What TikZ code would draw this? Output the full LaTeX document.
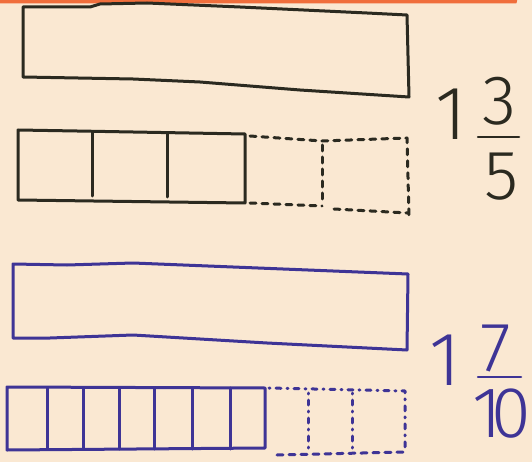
\documentclass[tikz,border=0pt]{standalone}
\usepackage{fontspec}
\newfontfamily\hand{Fira Sans Light}
\definecolor{paper}{RGB}{250,232,210}
\definecolor{strip}{RGB}{240,110,60}
\definecolor{inkk}{RGB}{43,42,32}
\definecolor{inkb}{RGB}{62,52,150}
\begin{document}
\begin{tikzpicture}[x=1pt,y=-1pt,
  pen/.style={line width=3pt,line join=round,line cap=round},
  blk/.style={pen,draw=inkk},
  blu/.style={pen,draw=inkb},
  dsh/.style={dash pattern=on 6pt off 6pt},
  dotty/.style={dash pattern=on 1pt off 6pt on 5pt off 6pt},
  digit/.style={inner sep=0pt,font=\hand\fontsize{70}{70}\selectfont},
  bigdigit/.style={inner sep=0pt,font=\hand\fontsize{76}{76}\selectfont},
  tendigit/.style={inner sep=0pt,font=\hand\fontsize{72}{72}\selectfont}]
\fill[paper] (0,0) rectangle (532,462);
\useasboundingbox (0,0) rectangle (532,462);
\fill[strip] (0,0) -- (517,0) -- (517,1) .. controls (517,3.5) .. (513,3.5) -- (0,3.5) -- cycle;
% black whole
\draw[blk] (23,7) -- (90,7) -- (100,4) -- (147,3) -- (240,7) -- (367,13) -- (407,15) -- (409,97) -- (300,90) -- (200,82) -- (133,79) -- (23,77) -- cycle;
% black fifths
\draw[blk] (245,134) -- (77,131) -- (18,130) -- (18,200) -- (245,203) -- cycle;
\draw[blk] (92,132) -- (92,196);
\draw[blk] (167,133) -- (167,197);
\draw[blk,dsh] (250,136) -- (322,141) -- (407,138) -- (409,217);
\draw[blk,dsh] (250,203) -- (322,206);
\draw[blk,dsh] (322,145) -- (322,203);
\draw[blk,dsh] (334,209) -- (408,213);
% blue whole
\draw[blu] (13,264) -- (67,265) -- (133,263) -- (233,267) -- (408,274) -- (407,350) -- (267,343) -- (133,335) -- (50,338) -- (13,338) -- cycle;
% blue tenths
\draw[blu] (265,388) -- (7,387) -- (7,450) -- (265,448) -- cycle;
\foreach \xx in {47,83,119,154,192,230} \draw[blu] (\xx,388) -- (\xx,449);
\draw[blu,dotty] (269,388) -- (405,391) -- (405,452);
\draw[blu,dotty] (308,393) -- (308,449);
\draw[blu,dotty] (352,393) -- (352,450);
\draw[blu,dsh] (277,455) -- (405,452);
% numbers black
\node[bigdigit,text=inkk] (w1) at (451,114) {1};
\node[digit,text=inkk] (n3) at (500,101) {3};
\coordinate (b1l) at (478,137);
\coordinate (b1r) at (519,137);
\draw[pen,draw=inkk,line width=2.5pt] (b1l) -- (b1r);
\node[digit,text=inkk] (d5) at (502,177) {5};
% numbers blue
\node[bigdigit,text=inkb] (w2) at (445,360) {1};
\node[digit,text=inkb] (n7) at (496,349) {7};
\coordinate (b2l) at (478,377);
\coordinate (b2r) at (521,377);
\draw[pen,draw=inkb,line width=2.5pt] (b2l) -- (b2r);
\node[tendigit,text=inkb] (d10) at (502,414) {1\kern-11pt0};
\end{tikzpicture}
\end{document}
